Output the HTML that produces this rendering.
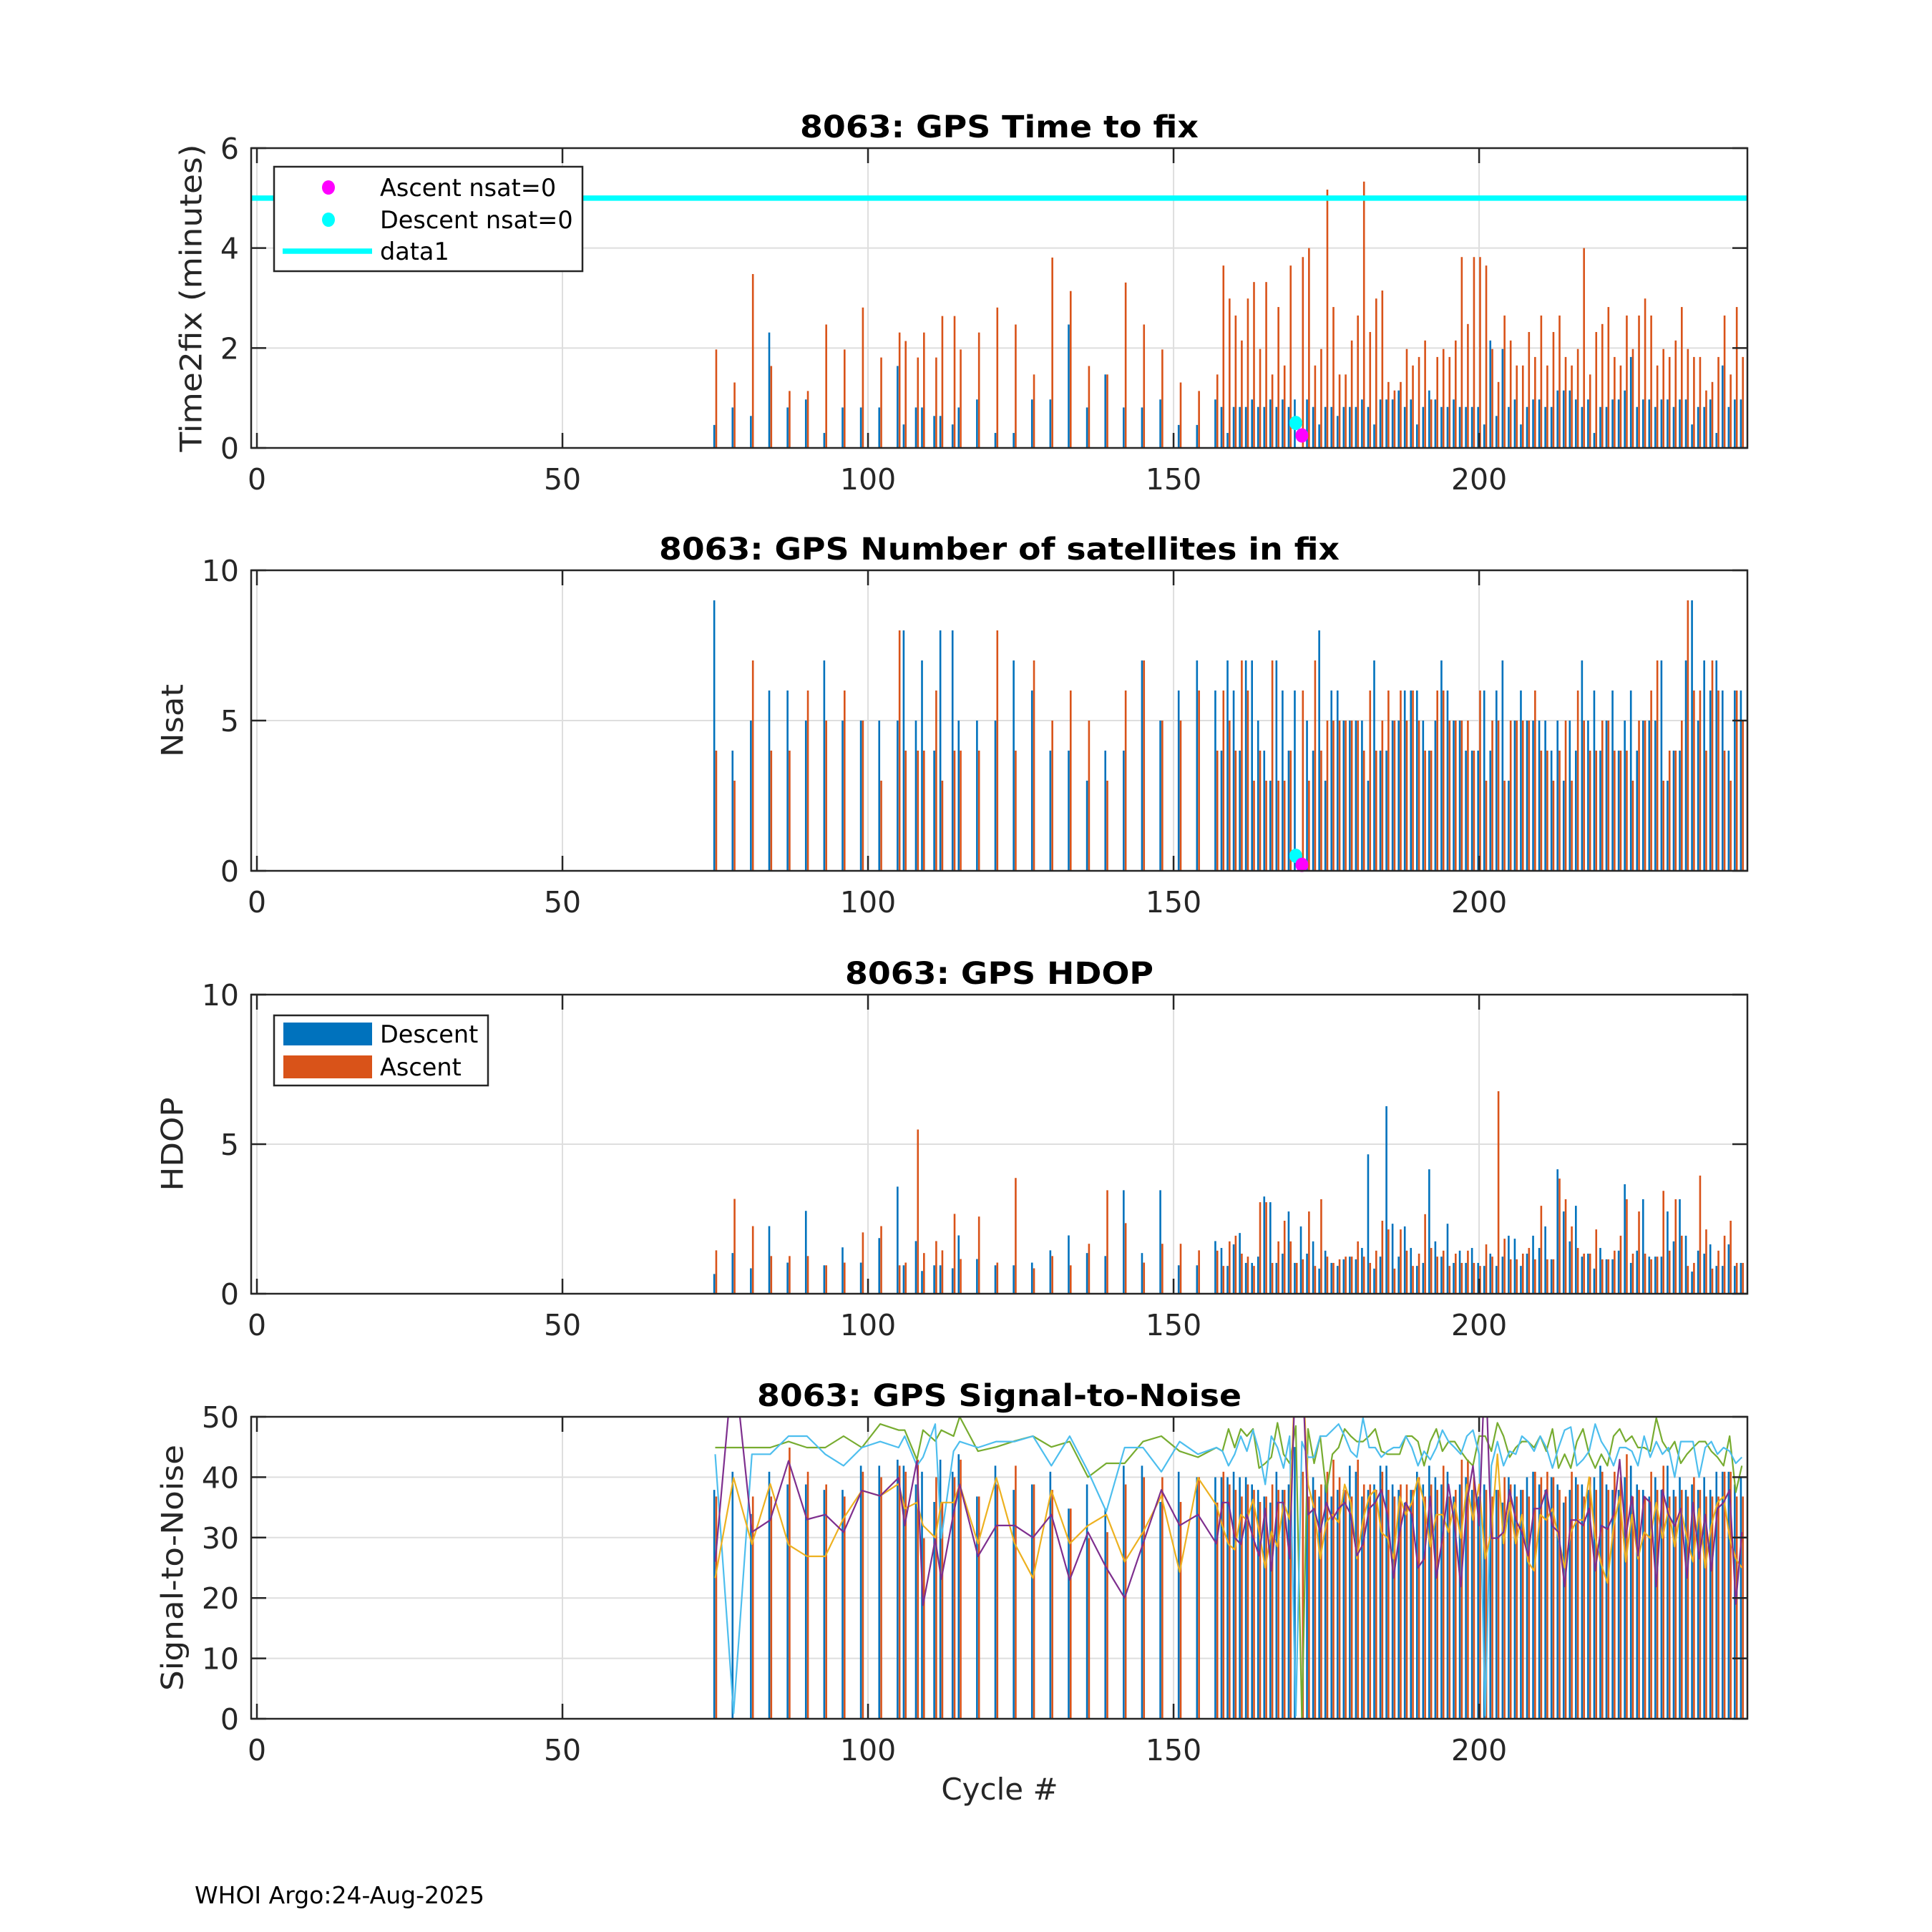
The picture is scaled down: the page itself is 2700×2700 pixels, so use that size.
<!DOCTYPE html>
<html>
<head>
<meta charset="utf-8">
<style>
html,body{margin:0;padding:0;background:#fff;}
svg{display:block;font-family:"DejaVu Sans","Liberation Sans",sans-serif;}
</style>
</head>
<body>
<svg id="fig" width="2700" height="2700" viewBox="0 0 2700 2700" xmlns="http://www.w3.org/2000/svg">
<rect x="0" y="0" width="2700" height="2700" fill="#ffffff"/>
<text x="272" y="2660" font-size="33" fill="#000">WHOI Argo:24-Aug-2025</text>
<text x="1397" y="2515" font-size="42" fill="#262626" text-anchor="middle">Cycle #</text>
</svg>
<script>
// ---------- data ----------
const cycles = [75,78,81,84,87,90,93,96,99,102,105,106,108,109,111,112,114,115,118,121,124,127,130,133,136,139,142,145,148,151,154,
157,158,159,160,161,162,163,164,165,166,
167,168,169,170,171,172,173,174,175,176,
177,178,179,180,181,182,183,184,185,186,
187,188,189,190,191,192,193,194,195,196,
197,198,199,200,201,202,203,204,205,206,
207,208,209,210,211,212,213,214,215,216,
217,218,219,220,221,222,223,224,225,226,
227,228,229,230,231,232,233,234,235,236,
237,238,239,240,241,242,243];

const t2fDescent = [0.46,0.81,0.64,2.31,0.81,0.97,0.30,0.81,0.81,0.81,1.64,0.47,0.81,0.81,0.64,0.64,0.47,0.81,0.97,0.30,0.30,0.97,0.97,2.47,0.81,1.47,0.81,0.81,0.97,0.46,0.46,
0.97,0.82,0.3,0.82,0.82,0.82,0.97,0.82,0.82,0.97,
0.82,0.97,0.82,0.97,null,0.97,0.82,0.47,0.82,0.82,
0.64,0.82,0.82,0.82,0.97,0.82,0.47,0.97,0.97,0.97,
1.15,0.82,0.97,0.47,0.82,1.15,0.97,0.82,0.82,0.97,
0.82,0.82,0.82,0.82,0.47,2.15,0.64,1.98,0.82,0.97,
0.47,0.82,0.97,0.97,0.82,0.82,1.15,1.15,1.15,0.97,
0.82,0.97,0.3,0.82,0.82,0.97,0.97,1.15,1.82,0.82,
0.97,0.97,0.82,0.97,0.97,0.82,0.97,0.97,0.47,0.82,
0.82,0.97,0.3,1.65,0.82,0.97,0.97];

const t2fAscent = [1.97,1.31,3.48,1.64,1.14,1.14,2.47,1.97,2.81,1.81,2.31,2.14,1.81,2.31,1.81,2.64,2.64,1.97,2.31,2.81,2.47,1.47,3.81,3.14,1.64,1.47,3.31,2.47,1.97,1.31,1.14,
1.47,3.65,2.99,2.65,2.15,2.99,3.32,1.98,3.32,1.47,
2.82,1.65,3.65,null,3.82,4.0,1.65,1.98,5.17,2.82,
1.47,1.47,2.15,2.65,5.33,2.32,2.99,3.15,1.32,1.15,
1.32,1.98,1.65,1.82,2.15,0.97,1.82,1.98,1.82,2.15,
3.82,2.48,3.82,3.82,3.65,1.98,1.32,2.65,2.15,1.65,
1.65,2.32,1.82,2.65,1.65,2.32,2.65,1.82,1.65,1.98,
4.0,1.47,2.32,2.48,2.82,1.82,1.65,2.65,1.98,2.65,
2.99,2.65,1.65,1.98,1.82,2.15,2.82,1.98,1.82,1.82,
1.15,1.32,1.82,2.65,1.47,2.82,1.82];

const nsatDescent = [9,4,5,6,6,5,7,5,5,5,5,8,5,7,4,8,8,5,5,5,7,6,4,4,3,4,4,7,5,6,7,
6,4,7,6,4,7,7,5,4,3,
7,6,4,6,null,5,4,8,3,6,
6,5,5,5,5,3,7,4,4,5,
5,6,6,6,5,4,5,7,6,5,
5,4,4,4,6,4,6,7,3,5,
6,5,5,5,5,4,5,3,5,4,
7,5,6,4,5,6,4,5,6,4,
5,5,5,7,3,4,4,7,9,5,
7,6,7,6,4,6,6];

const nsatAscent = [4,3,7,4,4,6,5,6,5,3,8,4,4,4,6,3,4,4,4,8,4,7,5,6,5,3,6,7,5,5,6,
4,6,5,4,7,6,3,4,3,7,
3,3,4,null,6,3,7,4,5,5,
5,5,5,5,4,6,4,5,6,5,
6,5,6,5,4,4,6,6,5,5,
5,5,4,6,3,5,5,3,5,5,
5,5,6,4,4,3,4,5,3,6,
5,4,4,5,5,4,4,4,3,5,
5,6,7,3,4,4,5,9,6,6,
4,7,6,4,3,6,5];

const hdopDescent = [0.66,1.36,0.85,2.26,1.04,2.77,0.95,1.55,1.04,1.86,3.58,0.95,1.76,0.76,0.95,0.95,0.85,1.95,1.16,0.95,0.95,1.04,1.45,1.95,1.36,1.26,3.46,1.36,3.46,0.95,0.95,
1.76,1.53,0.93,1.65,2.03,1.03,1.03,1.24,3.25,3.06,
1.03,1.34,2.75,1.03,2.25,1.34,1.75,0.84,1.44,1.03,
0.93,1.15,1.24,1.15,1.53,4.66,0.84,1.24,6.27,2.34,
1.24,2.25,1.53,0.93,1.03,4.16,1.75,1.24,2.34,1.03,
1.44,1.03,1.53,1.03,0.93,1.34,0.93,1.24,1.94,1.84,
0.93,1.34,1.94,1.53,2.25,1.15,4.16,2.75,1.75,2.94,
1.24,1.34,0.84,1.53,1.15,1.15,1.44,3.66,1.03,1.44,
3.16,1.24,1.24,1.24,2.75,1.75,3.16,1.94,0.74,1.44,
1.34,1.65,0.93,0.93,1.65,0.93,1.03];

const hdopAscent = [1.45,3.17,2.26,1.26,1.26,1.26,0.95,1.04,2.05,2.26,0.95,1.04,5.49,1.36,1.76,1.45,2.67,1.16,2.58,1.04,3.87,0.85,1.26,0.95,1.67,3.46,2.36,1.04,1.67,1.67,1.45,
1.44,0.93,1.75,1.94,1.34,1.24,0.93,3.06,3.06,1.03,
1.75,2.44,1.75,1.03,1.15,2.75,0.93,3.16,1.24,1.03,
1.15,1.24,1.24,1.75,1.24,1.03,1.44,2.44,2.15,0.84,
2.15,1.44,0.93,1.34,2.66,1.53,1.24,1.44,0.93,1.34,
1.03,1.44,1.03,0.93,1.65,1.24,6.77,1.84,1.15,1.15,
1.34,1.53,1.15,2.94,1.15,1.15,3.85,3.16,2.25,1.53,
1.34,1.34,2.15,1.15,1.15,1.44,1.94,3.16,1.34,2.75,
1.34,1.15,1.24,3.44,1.44,3.16,1.94,0.93,1.03,3.95,
2.15,0.84,1.44,1.94,2.44,1.03,1.03];

const snrDescent = [37.9,40.9,33.9,40.9,38.8,38.8,37.9,37.9,41.9,41.9,42.9,41.9,38.8,40.9,35.9,42.9,40.9,43.8,36.8,41.9,37.9,38.8,40.9,34.8,38.8,34.8,41.9,41.9,35.9,40.9,40,
40,40,40,40.9,40,40,38.8,37.9,36.8,35.8,
40.9,37.9,38.8,45,null,38.8,40,36.8,38.8,36.8,
37.9,37.9,41.9,40.9,36.8,37.9,38.8,41.9,41.9,38.8,
37.9,35.8,37.9,40.9,38.8,41.9,40,38.8,40.9,36.8,
38.8,40,37.9,36.8,38.8,36.8,37.9,35.8,40,38.8,
37.9,40,40.9,38.8,37.9,40,38.8,35.8,37.9,40,
38.8,37.9,40,41.9,38.8,37.9,37.9,40,41.9,38.8,
37.9,36.8,40,37.9,41.9,37.9,40,37.9,38.8,37.9,
40,37.9,40.9,40.9,40.9,38.8,40];

const snrAscent = [36.8,null,36.8,36.8,44.9,40.9,38.8,36.8,40.9,40,41.9,40.9,42.9,29.9,40,35.9,40,42.9,36.8,38.8,41.9,38.8,37.9,34.8,29.9,30.9,38.8,40,40,35.9,40,
35.8,40.9,38.8,37.9,36.8,38.8,37.9,35.9,36.8,38.8,
37.9,37.9,40.9,null,40.9,36.8,37.9,38.8,40.9,42.9,
40,37.9,36.8,42.9,38.8,38.8,37.9,40.9,37.9,36.8,
38.8,38.8,37.9,40,36.8,38.8,37.9,41.9,36.8,37.9,
42.9,42.9,40,36.8,37.9,36.8,37.9,40,38.8,36.8,
37.9,36.8,40.9,40,40.9,40,37.9,36.8,40.9,38.8,
36.8,40,37.9,40.9,37.9,40.9,40,43.8,36.8,37.9,
36.8,40.9,37.9,41.9,36.8,36.8,37.9,36.8,40,37.9,
36.8,36.8,36.8,40.9,40.9,36.8,36.8];

const snrPurple = [26,60,30.9,32.9,42.7,33,33.8,30.9,37.8,36.9,39.9,32,42.7,18.8,29.7,23.1,34,38.8,26.9,32,32,30,33.8,23,30.9,25,20,29,37.9,32,33.8,
29,35.8,35.8,30,28.9,33.8,30,27,34.8,24.5,
35.8,35.8,26.5,60,60,33.8,34.8,30.9,35.8,33,
34.8,35.8,33.8,27,28.9,34.8,35.8,37.9,33.8,23.3,
30.9,35.8,33.8,25,26.5,36.8,23.3,29.9,38.8,31.9,
21.9,35.8,41.9,32,60,29.9,29.9,30.9,37.9,32.9,
30.9,27,34.8,34.8,37.9,31.9,30.9,21.9,32.9,32.9,
32,34.8,24.5,32,31.4,33.8,42.9,30,36.8,27,
36.8,35.8,21.9,37.9,33.8,31.9,34.8,23.3,35.8,26.5,
33.8,24.5,34.8,35.8,37.9,19,30.9];

const snrYellow = [23.3,39.9,28.9,38.9,28.8,26.9,26.9,33.2,37.8,36.9,38.9,34.8,35.8,32,30,35.8,35.8,38.8,29,39.9,29,23.3,37.8,29,32,33.8,26,30.9,36.9,24.3,39.9,
35.4,31.9,28.9,28,33.8,32.9,36.3,30.9,25,31,
28.5,35.8,33,60,60,38.8,34.8,26.5,32.5,33.8,
32.5,38.8,35.8,26.5,32.9,36.8,37.9,30.9,29.9,26.5,
36.8,33.8,35.8,39.9,35.8,28.5,33.8,33.8,30.9,35.8,
29.9,38.8,32.9,38.8,26.5,30.9,43.8,29,35.8,29,
33.8,26,24.5,33.8,32.9,34.8,29.9,25,30.9,32.9,
32.9,40,30,25.5,22.5,31.9,36.8,26,33.8,26.5,
30.9,29.9,35.8,29.9,34.8,28.5,34.8,29.9,26,34.8,
25,32,35.8,36.8,29.9,26.5,25];

const snrGreen = [44.9,44.9,44.9,44.9,45.9,44.9,44.9,46.8,44.9,48.8,47.8,47.8,42.9,47.8,46,47.8,46.8,50,44.3,45,46,46.8,45,45.9,40,42.3,42.3,45.9,46.8,44.3,43.3,
44.9,44.3,48,44.9,48,46.8,48,41.5,42.3,43.3,
49,43.8,42.3,48.5,0,48,42.3,46.8,37.5,43.8,
44.9,48,46.8,45.9,45.9,46.8,48,44.3,43.8,43.8,
43.8,46.8,46.8,45.9,41.9,45.9,48,44.3,45.9,45.9,
44.3,42.9,41.9,46.8,46.8,44.3,49,46.8,43.3,44.9,
45.9,45.9,44.9,46.8,44.3,48,41.5,43.8,41.5,45.9,
48,43.8,41.5,43.8,41.9,46.8,48,45.9,46.8,44.9,
44.9,44.3,49.8,45.9,44.3,45.9,42.3,43.8,44.9,45.9,
45.9,44.3,43.3,41.9,46.8,37.5,41.9];

const snrLightBlue = [43.8,0.9,43.8,43.8,46.8,46.8,43.8,41.9,44.9,45.9,44.9,46.8,41.9,43.3,48.8,29.9,44.3,45.9,44.9,45.9,45.9,46.8,41.9,46.8,41,34.3,44.9,44.9,40.9,45.9,43.8,
44.9,44.3,41.9,43.8,46.8,44.3,47.8,44.3,38.8,46.8,
44.9,41.5,46.8,0.5,45.9,43.3,43.3,46.8,46.8,47.8,
48.8,46.8,44.3,43.3,49.8,44.9,44.9,43.3,44.3,44.9,
44.9,46.8,44.9,41.9,44.3,42.9,44.9,47.8,45.9,44.9,
43.8,46.8,47.8,43.8,0.5,41.9,45.9,41.9,44.3,43.8,
46.8,45.9,44.3,46.8,44.9,41.5,44.9,47.8,48.3,41.9,
42.9,44.3,48.8,45.9,44.3,41.9,44.9,44.9,44.3,41.9,
46.8,43.3,45.9,43.8,44.9,40,45.9,45.9,45.9,40,
44.9,45.9,43.8,44.9,44.3,42.3,43.3];

const xTicks = [0,50,100,150,200];
const t2fTicks = [0,2,4,6];
const nsatTicks = [0,5,10];
const hdopTicks = [0,5,10];
const snrTicks = [0,10,20,30,40,50];
const limitLine = [5];
const ascentZeroPt = [171, 0.25];
const descentZeroPt = [170, 0.5];
const ascentZeroPt2 = [171, 0.2];
const descentZeroPt2 = [170, 0.5];

// ---------- layout ----------
const NS = 'http://www.w3.org/2000/svg';
const svg = document.getElementById('fig');
const L = 351, R = 2442;
const XMIN = -0.94, XMAX = 243.9;
function xs(c){ return L + (c - XMIN) / (XMAX - XMIN) * (R - L); }
function mk(tag, attrs){ const e = document.createElementNS(NS, tag); for (const k in attrs) e.setAttribute(k, attrs[k]); return e; }

const panels = [
 {key:'time2fix', top:207, bot:626, ymax:6, ticks:t2fTicks, title:'8063: GPS Time to fix', titleW:557, ylabel:'Time2fix (minutes)', ylx:267, ylw:430},
 {key:'nsat', top:797, bot:1217, ymax:10, ticks:nsatTicks, title:'8063: GPS Number of satellites in fix', titleW:951, ylabel:'Nsat', ylx:241, ylw:102},
 {key:'hdop', top:1390, bot:1808, ymax:10, ticks:hdopTicks, title:'8063: GPS HDOP', titleW:431, ylabel:'HDOP', ylx:241, ylw:131},
 {key:'snr', top:1980, bot:2402, ymax:50, ticks:snrTicks, title:'8063: GPS Signal-to-Noise', titleW:677, ylabel:'Signal-to-Noise', ylx:241, ylw:344}
];

function ysOf(p){ return v => p.bot - (v / p.ymax) * (p.bot - p.top); }

function drawFrame(p, idx){
  const ys = ysOf(p);
  const g = mk('g', {});
  
  
  svg.appendChild(g);
  const cp = mk('clipPath', {id:'clip' + idx});
  const cr = mk('rect', {x:L, y:p.top, width:R-L, height:p.bot-p.top});
  cp.appendChild(cr);
  svg.appendChild(cp);
  xTicks.forEach(t => {
    const ln = mk('line', {x1:xs(t), x2:xs(t), y1:p.top, y2:p.bot, stroke:'#dedede', 'stroke-width':2});
    
    
    g.appendChild(ln);
  });
  p.ticks.forEach(t => {
    const ln = mk('line', {x1:L, x2:R, y1:ys(t), y2:ys(t), stroke:'#dedede', 'stroke-width':2});
    
    
    g.appendChild(ln);
  });
  p.ys = ys; p.g = g; p.clip = 'url(#clip' + idx + ')';
}

function drawOverlay(p){
  const ys = p.ys;
  const g = mk('g', {});
  
  
  svg.appendChild(g);
  const box = mk('rect', {x:L, y:p.top, width:R-L, height:p.bot-p.top, fill:'none', stroke:'#262626', 'stroke-width':2.5});
  
  
  g.appendChild(box);
  xTicks.forEach(t => {
    const a = mk('line', {x1:xs(t), x2:xs(t), y1:p.bot, y2:p.bot-21, stroke:'#262626', 'stroke-width':2.5});
    
    
    g.appendChild(a);
    const b = mk('line', {x1:xs(t), x2:xs(t), y1:p.top, y2:p.top+21, stroke:'#262626', 'stroke-width':2.5});
    
    
    g.appendChild(b);
    const tx = mk('text', {x:xs(t), y:p.bot+58, 'font-size':41, fill:'#262626', 'text-anchor':'middle'});
    tx.textContent = String(t);
    
    
    g.appendChild(tx);
  });
  p.ticks.forEach(t => {
    const a = mk('line', {x1:L, x2:L+21, y1:ys(t), y2:ys(t), stroke:'#262626', 'stroke-width':2.5});
    
    
    g.appendChild(a);
    const b = mk('line', {x1:R, x2:R-21, y1:ys(t), y2:ys(t), stroke:'#262626', 'stroke-width':2.5});
    
    
    g.appendChild(b);
    const tx = mk('text', {x:L-17, y:ys(t)+15, 'font-size':41, fill:'#262626', 'text-anchor':'end'});
    tx.textContent = String(t);
    
    
    g.appendChild(tx);
  });
  const ti = mk('text', {x:(L+R)/2, y:p.top-15, 'font-size':43, 'font-weight':'bold', fill:'#000', 'text-anchor':'middle', textLength:p.titleW, lengthAdjust:'spacingAndGlyphs'});
  ti.textContent = p.title;
  
  
  g.appendChild(ti);
  const cy = (p.top + p.bot) / 2;
  const yl = mk('text', {x:p.ylx, y:cy, 'font-size':42, fill:'#262626', 'text-anchor':'middle', transform:'rotate(-90 ' + (p.ylx) + ' ' + cy + ')', dy:'0.35em', textLength:p.ylw, lengthAdjust:'spacingAndGlyphs'});
  yl.textContent = p.ylabel;
  
  
  g.appendChild(yl);
}

function drawBars(p, desc, asc){
  const ys = p.ys;
  const g = mk('g', {'clip-path':p.clip});
  
  
  svg.appendChild(g);
  const w = 2.6;
  cycles.forEach((c, i) => {
    if (desc[i] !== null && desc[i] !== undefined) {
      const y = ys(desc[i]);
      const r = mk('rect', {x:xs(c)-1.4-w/2, y:y, width:w, height:ys(0)-y, fill:'#0072BD'});
      
      
      g.appendChild(r);
    }
    if (asc[i] !== null && asc[i] !== undefined) {
      const y = ys(asc[i]);
      const r = mk('rect', {x:xs(c)+1.4-w/2, y:y, width:w, height:ys(0)-y, fill:'#D95319'});
      
      
      g.appendChild(r);
    }
  });
}

function drawLine(p, vals, color, name, width){
  const ys = p.ys;
  const pts = [];
  cycles.forEach((c, i) => { if (vals[i] !== null) pts.push(xs(c).toFixed(1) + ',' + ys(vals[i]).toFixed(1)); });
  const pl = mk('polyline', {points:pts.join(' '), fill:'none', stroke:color, 'stroke-width':width, 'clip-path':p.clip, 'stroke-linejoin':'round'});
  
  
  svg.appendChild(pl);
}

function drawDot(p, pt, color, name){
  const d = mk('ellipse', {cx:xs(pt[0]), cy:p.ys(pt[1]), rx:9, ry:10, fill:color});
  
  
  svg.appendChild(d);
}

panels.forEach((p, i) => drawFrame(p, i));

drawBars(panels[0], t2fDescent, t2fAscent);
const lim = mk('line', {x1:L, x2:R, y1:panels[0].ys(limitLine[0]), y2:panels[0].ys(limitLine[0]), stroke:'#00FFFF', 'stroke-width':7.5});


svg.appendChild(lim);
drawDot(panels[0], descentZeroPt, '#00FFFF', 'time2fix-descent-nsat0-point');
drawDot(panels[0], ascentZeroPt, '#FF00FF', 'time2fix-ascent-nsat0-point');

drawBars(panels[1], nsatDescent, nsatAscent);
drawDot(panels[1], descentZeroPt2, '#00FFFF', 'nsat-descent-nsat0-point');
drawDot(panels[1], ascentZeroPt2, '#FF00FF', 'nsat-ascent-nsat0-point');

drawBars(panels[2], hdopDescent, hdopAscent);

drawBars(panels[3], snrDescent, snrAscent);
drawLine(panels[3], snrGreen, '#77AC30', 'snr-line-green', 2.2);
drawLine(panels[3], snrLightBlue, '#4DBEEE', 'snr-line-lightblue', 2.2);
drawLine(panels[3], snrYellow, '#EDB120', 'snr-line-yellow', 2.2);
drawLine(panels[3], snrPurple, '#7E2F8E', 'snr-line-purple', 2.2);

panels.forEach(p => drawOverlay(p));

(function(){
  const g = mk('g', {});
  
  
  svg.appendChild(g);
  const bx = mk('rect', {x:383, y:233, width:431, height:146, fill:'#fff', stroke:'#262626', 'stroke-width':2.5});
  
  
  g.appendChild(bx);
  const rows = [['Ascent nsat=0','#FF00FF','dot',262],['Descent nsat=0','#00FFFF','dot',307],['data1','#00FFFF','line',351]];
  rows.forEach((r, k) => {
    let m;
    if (r[2] === 'dot') { m = mk('ellipse', {cx:459, cy:r[3], rx:9, ry:10, fill:r[1]}); }
    else { m = mk('line', {x1:395, x2:520, y1:r[3], y2:r[3], stroke:r[1], 'stroke-width':7.5}); }
    
    
    g.appendChild(m);
    const t = mk('text', {x:531, y:r[3]+12, 'font-size':33.5, fill:'#000'});
    t.textContent = r[0];
    
    
    g.appendChild(t);
  });
})();

(function(){
  const g = mk('g', {});
  
  
  svg.appendChild(g);
  const bx = mk('rect', {x:383, y:1419, width:299, height:98, fill:'#fff', stroke:'#262626', 'stroke-width':2.5});
  
  
  g.appendChild(bx);
  const rows = [['Descent','#0072BD',1445],['Ascent','#D95319',1491]];
  rows.forEach((r, k) => {
    const m = mk('rect', {x:396, y:r[2]-16, width:124, height:32, fill:r[1]});
    
    
    g.appendChild(m);
    const t = mk('text', {x:531, y:r[2]+12, 'font-size':33.5, fill:'#000'});
    t.textContent = r[0];
    
    
    g.appendChild(t);
  });
})();
</script>
</body>
</html>
